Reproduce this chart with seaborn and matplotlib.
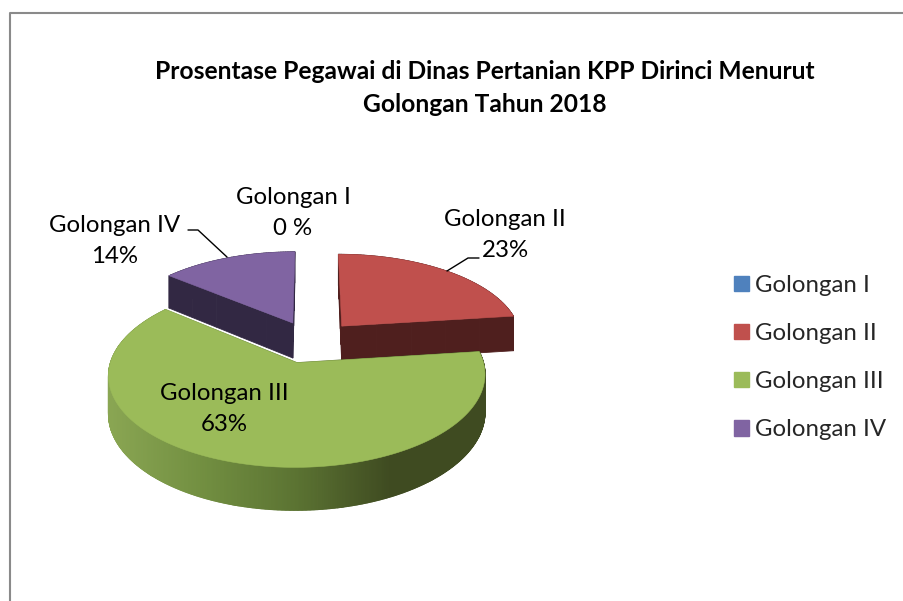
import numpy as np
import matplotlib
matplotlib.use("Agg")
import matplotlib.pyplot as plt
from matplotlib.collections import PolyCollection
from matplotlib.colors import LinearSegmentedColormap
from matplotlib.patches import Patch, Polygon
from matplotlib.transforms import Affine2D
import seaborn as sns

####################################################################################
## data
categories = ["Golongan I", "Golongan II", "Golongan III", "Golongan IV"]
percent = [0, 23, 63, 14]
percent_text = ["0 %", "23%", "63%", "14%"]
title_text = "Prosentase Pegawai di Dinas Pertanian KPP Dirinci Menurut\nGolongan Tahun 2018"

top_colors = ["#4f81bd", "#c0504d", "#9bbb59", "#8064a2"]
side_colors = ["#2a4563", "#4f1f1e", "#3f4b21", "#322843"]
####################################################################################

sns.set_theme(style="white")
plt.rcParams["font.family"] = ["Lato", "DejaVu Sans"]

# pixel canvas, y goes down like the picture
fig = plt.figure(figsize=(9.04, 6.01), dpi=100, facecolor="white")
ax = fig.add_axes([0, 0, 1, 1])

# let the pie work out the wedges, then tilt them by hand for the 3D look
wedges, _ = ax.pie(percent, explode=[0.25] * 4, startangle=90, counterclock=False,
                   colors=sns.color_palette(top_colors))
outlines = []
for w in wedges:
    poly = w.get_path().to_polygons(Affine2D().scale(400), closed_only=False)[0] / 400
    # chop the edges up so the wall gradient stays smooth
    steps = np.arange(0, len(poly) - 1 + 1e-9, 0.2)
    fine = np.column_stack([np.interp(steps, np.arange(len(poly)), poly[:, 0]),
                            np.interp(steps, np.arange(len(poly)), poly[:, 1])])
    outlines.append(fine)
    w.remove()

ax.set_aspect("auto")
ax.set_xlim(0, 904)
ax.set_ylim(601, 0)
ax.axis("off")

# perspective settings, fitted by eye
cx, cy = 310, 341.7
rx, ry = 180.7, 85
tilt = 0.13
depth = 36
nudges = [0, 2.5, 0, 1.5]


def project(xy, nudge=0):
    scale = 1 / (1 + tilt * xy[:, 1])
    return np.column_stack([cx + nudge + rx * xy[:, 0] * scale, cy - ry * xy[:, 1] * scale]), scale


wall_cmap = LinearSegmentedColormap.from_list(
    "wall", ["#8aa653", "#728f41", "#5b7332", "#3f4b21", "#3f4b21"])

# back to front: purple, red, green
for i in [3, 1, 2]:
    if percent[i] == 0:
        continue
    top, scale = project(outlines[i], nudge=nudges[i])
    low = top + np.column_stack([np.zeros(len(top)), depth * scale])
    quads = [[top[j], top[j + 1], low[j + 1], low[j]] for j in range(len(top) - 1)]
    if i == 2:
        walls = PolyCollection(quads, array=(top[:-1, 0] + top[1:, 0]) / 2, cmap=wall_cmap,
                               clim=(108, 486), edgecolors="face", linewidths=0.8)
    else:
        walls = PolyCollection(quads, facecolors=side_colors[i], edgecolors=side_colors[i],
                               linewidths=0.6)
    ax.add_collection(walls)
    ax.add_patch(Polygon(top, closed=True, facecolor=top_colors[i], edgecolor=top_colors[i], lw=0.4))

# data labels
label_pos = [(293, 213), (505, 235), (224, 409), (115, 241)]
for i in range(len(categories)):
    ax.text(label_pos[i][0], label_pos[i][1], categories[i] + "\n" + percent_text[i],
            ha="center", va="center", fontsize=17.3, color="black", linespacing=1.58)

# leader lines
ax.plot([188, 198, 227], [230, 230, 257], color="black", lw=1)
ax.plot([479, 468, 447], [258, 258, 271], color="black", lw=1)

ax.text(485, 88, title_text, ha="center", va="center", fontsize=17.7, fontweight="bold",
        color="black", linespacing=1.5)

handles = [Patch(facecolor=c, edgecolor=c) for c in top_colors]
ax.legend(handles, categories, loc="center left", bbox_to_anchor=(734, 357.5),
          bbox_transform=ax.transData, frameon=False, fontsize=17.3, borderpad=0,
          borderaxespad=0, handlelength=0.62, handleheight=0.62, handletextpad=0.27,
          labelspacing=1.13)

# chart frame, runs off the right and bottom of the crop
ax.plot([10.5, 10.5, 904], [601, 12.5, 12.5], color="#8a8a8a", lw=1.5)

sns.despine(ax=ax, left=True, bottom=True)
fig.savefig("out.png", dpi=100)
